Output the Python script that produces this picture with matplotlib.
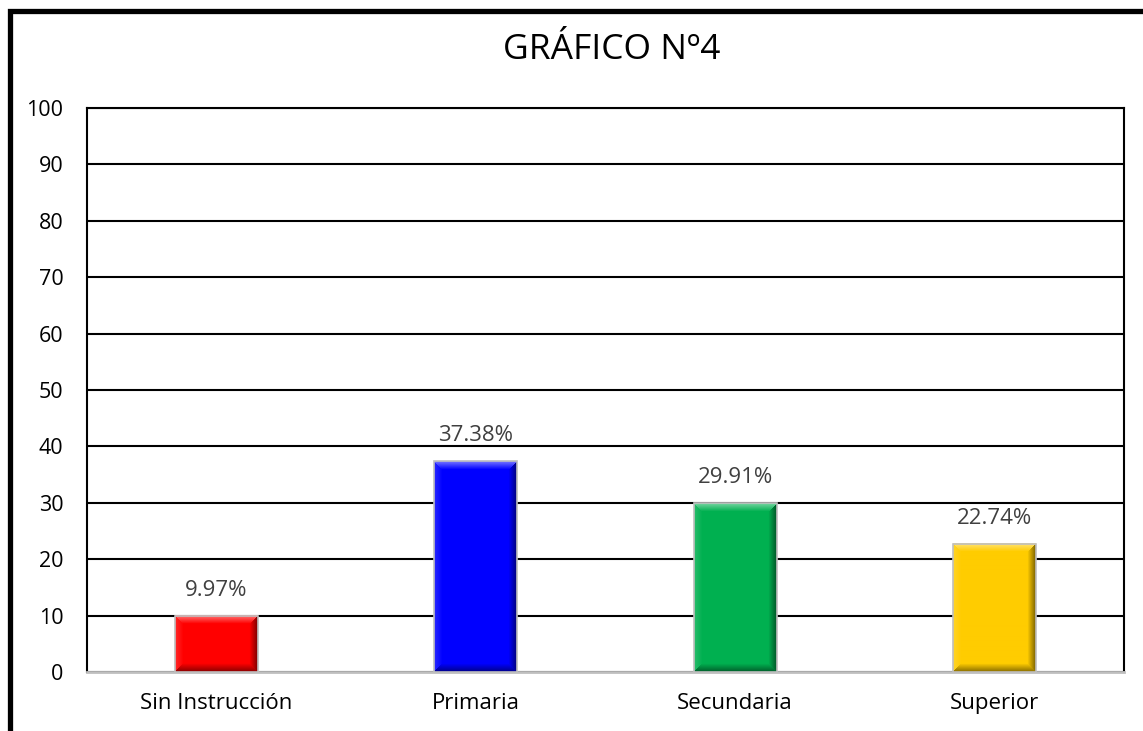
import numpy as np
import matplotlib
matplotlib.use('Agg')
import matplotlib.pyplot as plt
from matplotlib.patches import Rectangle
from matplotlib.colors import to_rgb

categories = ['Sin Instrucción', 'Primaria', 'Secundaria', 'Superior']
values = [9.97, 37.38, 29.91, 22.74]
labels = ['9.97%', '37.38%', '29.91%', '22.74%']
colors = ['#FF0000', '#0000FF', '#00B050', '#FFCC00']
yticks = list(range(0, 101, 10))
title = 'GRÁFICO Nº4'

plt.rcParams['font.family'] = ['Open Sans', 'DejaVu Sans']
W, H = 1143, 731
fig = plt.figure(figsize=(W / 100, H / 100), dpi=100)
ax_l, ax_b, ax_w, ax_h = 87, 59, 1037, 564
ax = fig.add_axes([ax_l / W, ax_b / H, ax_w / W, ax_h / H])

x = np.arange(len(categories))
bw = 0.32
bars = ax.bar(x, values, width=bw, color=colors, zorder=3, linewidth=0)
ax.set_xlim(-0.5, len(categories) - 0.5)
ax.set_ylim(0, 100)

# bevel shading
xr = len(categories)
for i, (bar, c) in enumerate(zip(bars, colors)):
    x0, y0 = bar.get_x(), bar.get_y()
    bwid, bh = bar.get_width(), bar.get_height()
    wpx = max(int(round(bwid / xr * ax_w)), 2)
    hpx = max(int(round(bh / 100 * ax_h)), 2)
    base = np.array(to_rgb(c))
    img = np.tile(base, (hpx, wpx, 1))
    b = 8
    yy, xx = np.mgrid[0:hpx, 0:wpx]
    d_top = yy
    d_bot = hpx - 1 - yy
    d_left = xx
    d_right = wpx - 1 - xx
    dmin = np.minimum.reduce([d_top, d_bot, d_left, d_right])
    side = np.argmin(np.stack([d_top, d_bot, d_left, d_right]), axis=0)
    inb = dmin < b
    fade = (1 - dmin / b)
    for s, mode, amt in [(0, 'light', 0.45), (2, 'light', 0.15), (1, 'dark', 0.45), (3, 'dark', 0.5)]:
        m = inb & (side == s)
        f = (fade[m] * amt)[:, None]
        if mode == 'light':
            img[m] = img[m] * (1 - f) + f
        else:
            img[m] = img[m] * (1 - f)
    ax.imshow(img, extent=(x0, x0 + bwid, y0, y0 + bh), aspect='auto',
              zorder=4, interpolation='bilinear', origin='upper')
    ax.add_patch(Rectangle((x0, y0), bwid, bh, fill=False, edgecolor='#BFBFBF',
                           lw=1.2, zorder=5))
    ax.annotate(labels[i], (x0 + bwid / 2, y0 + bh),
                xytext=(0, 18.5), textcoords='offset points', ha='center', va='center',
                fontsize=16, color='#404040', zorder=6)

ax.set_xlim(-0.5, len(categories) - 0.5)
ax.set_ylim(0, 100)
ax.set_yticks(yticks)
ax.set_xticks(x)
ax.set_xticklabels(categories)
ax.yaxis.grid(True, color='black', lw=1.5, zorder=0)
ax.set_axisbelow(True)
ax.tick_params(axis='y', length=0, pad=17, labelsize=15.5)
ax.tick_params(axis='x', length=0, pad=15, labelsize=16)
for s in ['top', 'left', 'right']:
    ax.spines[s].set_color('black')
    ax.spines[s].set_linewidth(1.5)
ax.spines['bottom'].set_color('#BFBFBF')
ax.spines['bottom'].set_linewidth(2)

fig.text(611.5 / W, 1 - 50 / H, title, ha='center', va='center', fontsize=25.5, color='black')

# outer chart border (clipped by the image on right and bottom)
fig.patches.append(Rectangle((9.5 / W, -0.1), 1.2, 1.1 - 10.5 / H, transform=fig.transFigure,
                             fill=False, edgecolor='black', lw=3.8))

fig.savefig('out.png', dpi=100)
